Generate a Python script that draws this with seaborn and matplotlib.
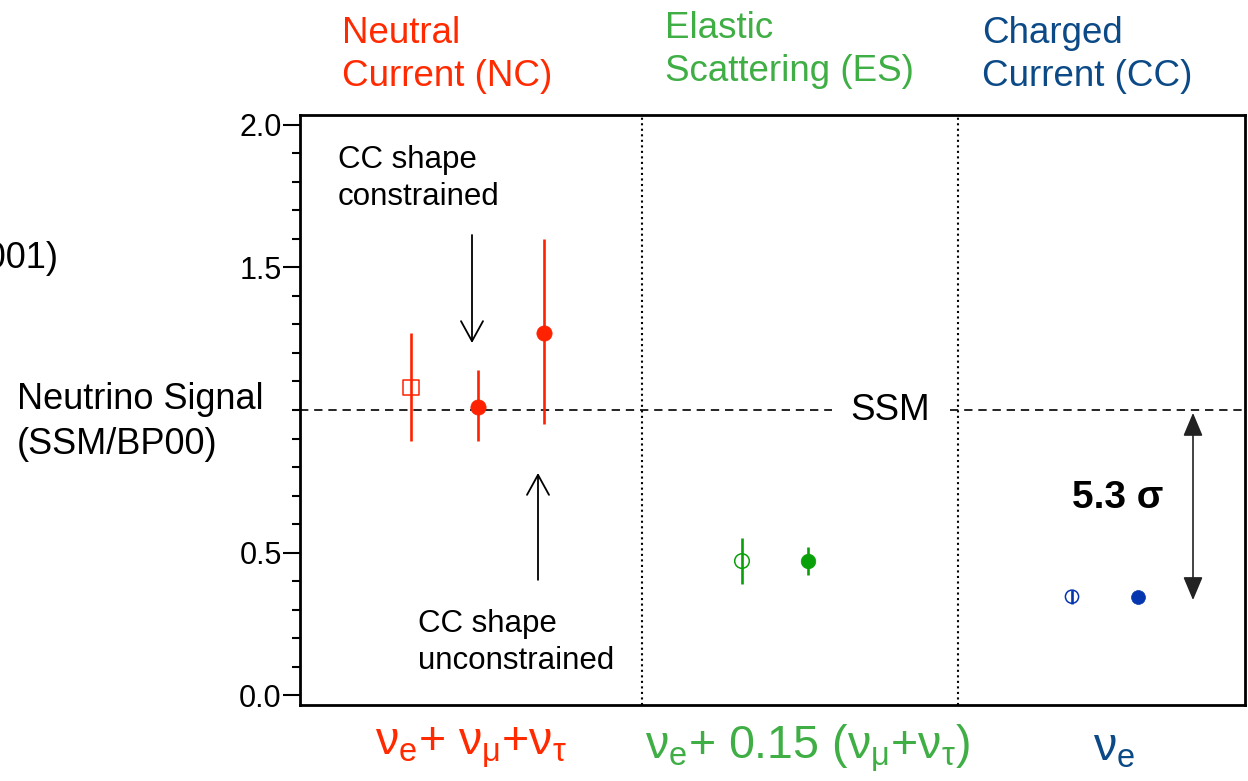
import numpy as np
import pandas as pd
import matplotlib
matplotlib.use("Agg")
import matplotlib.pyplot as plt
from matplotlib.ticker import FixedLocator
import seaborn as sns

# ---- measurements (ratio to SSM/BP00) ----
groups = ["NC", "NC", "NC", "ES", "ES", "CC", "CC"]
values = [1.08, 1.01, 1.27, 0.47, 0.47, 0.345, 0.345]
err_low = [0.19, 0.12, 0.32, 0.08, 0.05, 0.025, 0.02]
err_high = [0.19, 0.13, 0.33, 0.08, 0.05, 0.025, 0.02]
filled = [False, True, True, False, True, False, True]
ssm_ratio = 1.0
significance = "5.3 σ"

header_labels = ["Neutral\nCurrent (NC)", "Elastic\nScattering (ES)", "Charged\nCurrent (CC)"]
flux_labels = [r"$\nu_e$+ $\nu_\mu$+$\nu_\tau$",
               r"$\nu_e$+ 0.15 ($\nu_\mu$+$\nu_\tau$)",
               r"$\nu_e$"]
major_ticks = [0.0, 0.5, 1.5, 2.0]

# ---- layout of the panel ----
xpos = [1.11, 1.78, 2.44, 4.42, 5.08, 7.72, 8.38]
dividers = [3.42, 6.58]
marks = ["s", "o", "o", "o", "o", "o", "o"]
sizes = [11, 11, 11, 10.5, 10.5, 9.5, 10]
mark_colors = {"NC": "#ff2200", "ES": "#0aa00a", "CC": "#0536b0"}
text_colors = {"NC": "#ff2a00", "ES": "#3fae45", "CC": "#0b4a86"}

df = pd.DataFrame({"group": groups, "x": xpos, "y": values,
                   "lo": err_low, "hi": err_high, "filled": filled,
                   "marker": marks, "size": sizes})

sns.set_theme(style="ticks")
plt.rcParams["font.family"] = ["Liberation Sans", "DejaVu Sans"]
plt.rcParams["text.color"] = "black"
plt.rcParams["axes.labelcolor"] = "black"
plt.rcParams["ytick.color"] = "black"
plt.rcParams["ytick.labelcolor"] = "black"
plt.rcParams["mathtext.fontset"] = "custom"
plt.rcParams["mathtext.rm"] = "Liberation Sans"
plt.rcParams["mathtext.it"] = "Liberation Sans"
plt.rcParams["mathtext.default"] = "regular"

W, H = 1248, 781
fig = plt.figure(figsize=(W / 100, H / 100), dpi=100)
ax = fig.add_axes([300 / W, 1 - 705 / H, 945 / W, 590 / H])

# error bars first, markers on top
for _, r in df.iterrows():
    ax.errorbar(r.x, r.y, yerr=[[r.lo], [r.hi]], fmt="none",
                ecolor=mark_colors[r.group], elinewidth=1.9, capsize=0, zorder=3)

for i, r in df.iterrows():
    c = mark_colors[r.group]
    sub = df.loc[[i]]
    if r.filled:
        sns.scatterplot(data=sub, x="x", y="y", ax=ax, marker=r.marker,
                        s=r["size"] ** 2, color=c, edgecolor=c, linewidth=0.5,
                        zorder=4, legend=False)
    else:
        sns.scatterplot(data=sub, x="x", y="y", ax=ax, marker=r.marker,
                        s=r["size"] ** 2, facecolor="none", edgecolor=c,
                        linewidth=1.1, zorder=4, legend=False)

# SSM reference line, broken around its label
ax.plot([0, 5.32], [ssm_ratio, ssm_ratio], color="black", lw=1.2,
        linestyle=(0, (5, 3.5)), zorder=2)
ax.plot([6.5, 9.45], [ssm_ratio, ssm_ratio], color="black", lw=1.2,
        linestyle=(0, (5, 3.5)), zorder=2)
ax.text(5.9, ssm_ratio, "SSM", fontsize=26.5, ha="center", va="center")

# dotted separators between the three channels
for d in dividers:
    ax.axvline(d, color="black", lw=1.5, linestyle=":", zorder=1)

# CC-shape arrows
ax.annotate("", xy=(1.72, 1.235), xytext=(1.72, 1.614),
            arrowprops=dict(arrowstyle="->,head_length=1.0,head_width=0.55",
                            mutation_scale=14.4, lw=1.3, color="black",
                            shrinkA=0, shrinkB=0))
ax.annotate("", xy=(2.38, 0.779), xytext=(2.38, 0.404),
            arrowprops=dict(arrowstyle="->,head_length=1.0,head_width=0.55",
                            mutation_scale=14.4, lw=1.3, color="black",
                            shrinkA=0, shrinkB=0))
ax.text(0.38, 1.813, "CC shape\nconstrained", fontsize=22.5, ha="left",
        va="center", linespacing=1.3)
ax.text(1.18, 0.185, "CC shape\nunconstrained", fontsize=22.5, ha="left",
        va="center", linespacing=1.3)

# deficit of the CC flux below SSM
ax.annotate("", xy=(8.93, values[-1] - 0.012), xytext=(8.93, ssm_ratio - 0.01),
            arrowprops=dict(arrowstyle="<|-|>,head_length=1.0,head_width=0.42",
                            mutation_scale=14.4, lw=1.2, color="#222222",
                            shrinkA=0, shrinkB=0))
ax.text(7.72, 0.69, significance, fontsize=28, fontweight="bold",
        ha="left", va="center")

ax.set_xlim(0, 9.45)
ax.set_ylim(-0.035, 2.035)
ax.set_xlabel("")
ax.set_ylabel("")
ax.set_xticks([])
ax.yaxis.set_major_locator(FixedLocator(major_ticks))
ax.yaxis.set_minor_locator(FixedLocator(
    [v / 10 for v in range(0, 21) if v / 10 not in major_ticks]))
ax.set_yticklabels([f"{t:.1f}" for t in major_ticks])
ax.tick_params(axis="y", which="major", direction="out", length=12.2,
               width=1.5, labelsize=22, pad=1, color="black",
               labelcolor="black")
ax.tick_params(axis="y", which="minor", direction="out", length=5.8,
               width=1.5, color="black")
for s in ax.spines.values():
    s.set_visible(True)
    s.set_color("black")
    s.set_linewidth(2.0)

# channel headers and flux combinations
head_x = [342, 665, 982]
head_y = [55, 50, 55]
for lbl, g, hx, hy in zip(header_labels, ["NC", "ES", "CC"], head_x, head_y):
    fig.text(hx / W, 1 - hy / H, lbl, color=text_colors[g], fontsize=26.5,
             ha="left", va="center", linespacing=1.3)

flux_x = [375, 645, 1093]
for lbl, g, fx in zip(flux_labels, ["NC", "ES", "CC"], flux_x):
    fig.text(fx / W, 1 - 748 / H, lbl, color=text_colors[g], fontsize=33.5,
             ha="left", va="center")

fig.text(17 / W, 1 - 422 / H, "Neutrino Signal\n(SSM/BP00)", fontsize=26,
         ha="left", va="center", linespacing=1.35)
fig.text(58 / W, 1 - 258 / H, "(SNO 2001)", fontsize=26, ha="right",
         va="center")

fig.savefig("out.png", dpi=100)
